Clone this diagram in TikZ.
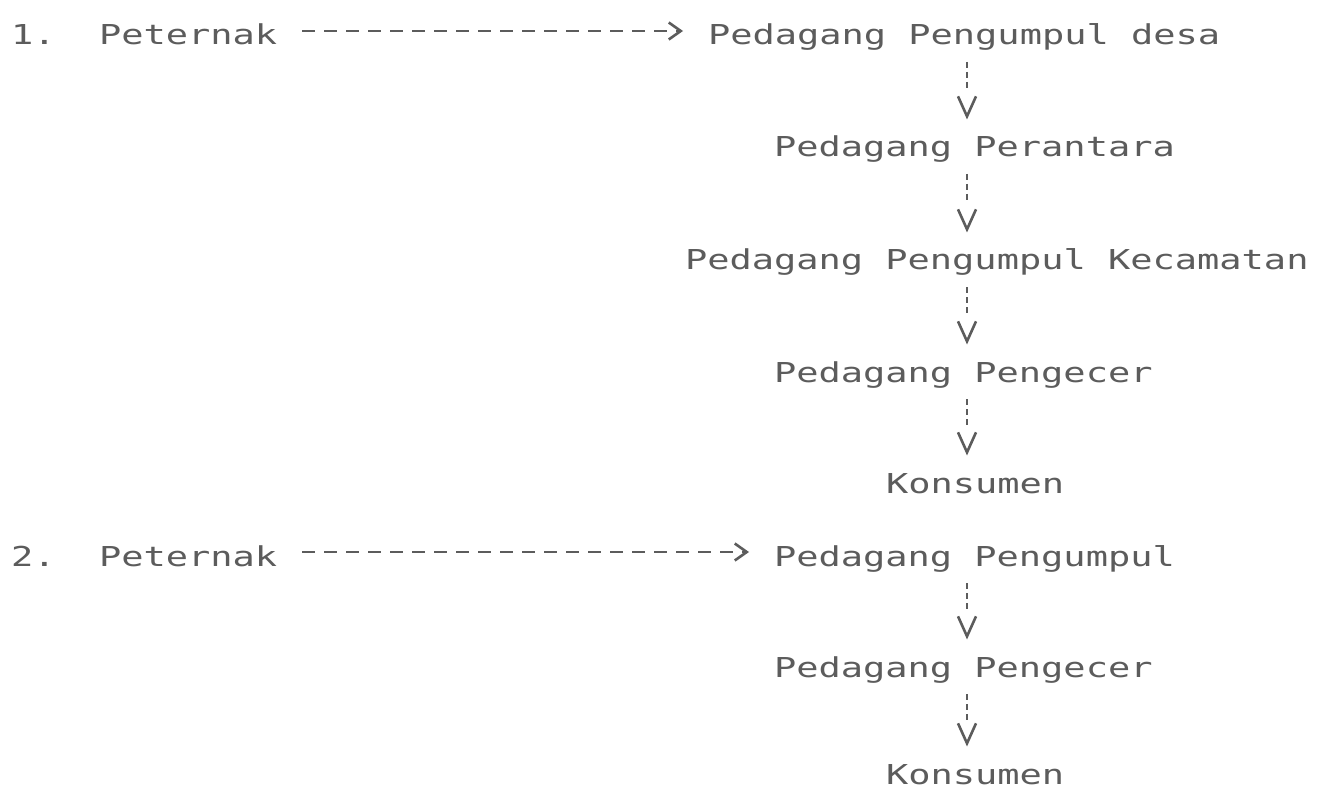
\documentclass[tikz,border=0pt]{standalone}
\usepackage{fontspec}
\newfontfamily\typefont[FakeStretch=1.35]{DejaVu Sans Mono}
\usetikzlibrary{arrows.meta}
\definecolor{ink}{HTML}{5C5C5C}
\newlength{\mylinkwidth}
\setlength{\mylinkwidth}{1.3pt}

\begin{document}
\begin{tikzpicture}[x=0.5pt,y=-0.5pt,
        every node/.style={%
            anchor=base west,
            inner sep=0pt,outer sep=0pt,
            text height=10pt,text depth=3.5pt,
            text=ink,
            font=\typefont\fontsize{13.7}{16}\selectfont,
            },
        hlink/.style={%
            draw=ink,line width=\mylinkwidth,
            dash pattern=on 6.5pt off 4.5pt,
            -{Straight Barb[length=6pt,width=8.5pt]},
            shorten <=12.5pt,shorten >=12.5pt,
            },
        vlink/.style={%
            draw=ink,line width=\mylinkwidth,
            dash pattern=on 3pt off 2pt on 3pt off 2pt on 3pt off 40pt,
            -{Straight Barb[length=10pt,width=9pt]},
            shorten <=5pt,shorten >=8.75pt,
            },
        ]
    \useasboundingbox (0,0) rectangle (1321,791);
    \fill[white] (0,0) rectangle (1321,791);

    % first channel
    \node (num1)   at (11,45)  {1.};
    \node (pet1)   at (99,45)  {Peternak};
    \node (desa)   at (708,45) {Pedagang Pengumpul desa};
    \node (antara) at (774,157) {Pedagang Perantara};
    \node (kec)    at (685,270) {Pedagang Pengumpul Kecamatan};
    \node (ecer1)  at (774,382) {Pedagang Pengecer};
    \node (kons1)  at (886,493) {Konsumen};

    % second channel
    \node (num2)   at (11,566)  {2.};
    \node (pet2)   at (99,566)  {Peternak};
    \node (kumpul) at (774,566) {Pedagang Pengumpul};
    \node (ecer2)  at (774,677) {Pedagang Pengecer};
    \node (kons2)  at (886,784) {Konsumen};

    \coordinate (col) at (967,0);

    \draw[hlink] ([yshift=7pt]pet1.base east) -- ([yshift=7pt]desa.base west);
    \draw[hlink] ([yshift=7pt]pet2.base east) -- ([yshift=7pt]kumpul.base west);
    \foreach \a/\b in {desa/antara,antara/kec,kec/ecer1,ecer1/kons1,kumpul/ecer2,ecer2/kons2}
        \draw[vlink] (\a.south -| col) -- (\b.north -| col);
\end{tikzpicture}
\end{document}
